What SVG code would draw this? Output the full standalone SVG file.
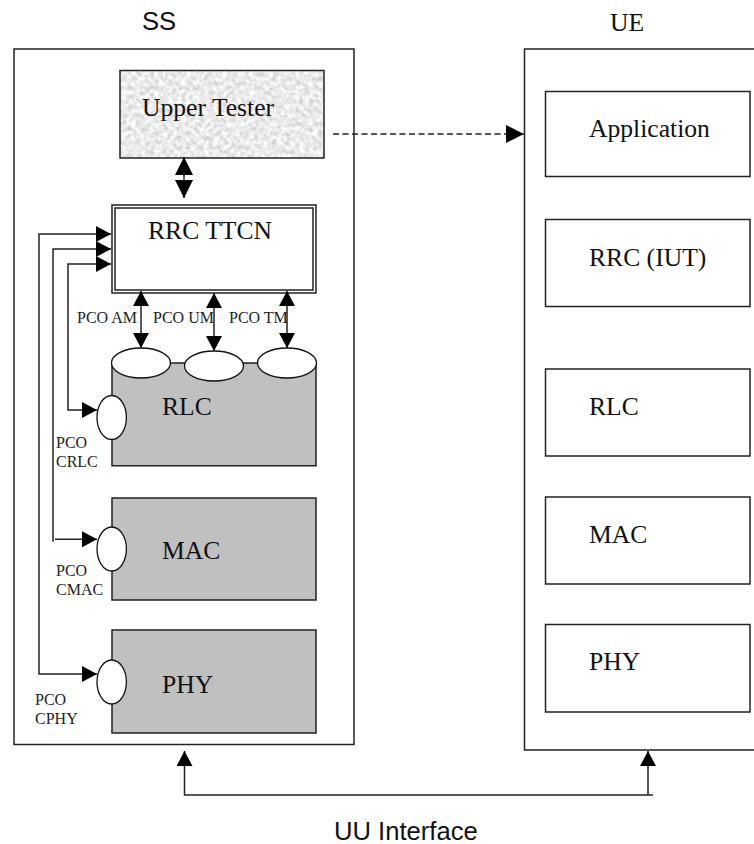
<svg xmlns="http://www.w3.org/2000/svg" width="754" height="844" viewBox="0 0 754 844">
<style>
  .box { fill: #fff; stroke: #222; stroke-width: 1.5; }
  .grey { fill: #c0c0c0; stroke: #222; stroke-width: 1.5; }
  .pco { fill: #fff; stroke: #111; stroke-width: 1.3; }
  .conn { fill: none; stroke: #222; stroke-width: 1.5; }
  .big { font-family: "Liberation Serif", "Times New Roman", serif; font-size: 25.6px; fill: #111; }
  .small { font-family: "Liberation Serif", "Times New Roman", serif; font-size: 16px; fill: #222; }
  .sans { font-family: "Liberation Sans", Arial, sans-serif; font-size: 25.6px; fill: #111; }
</style>
<defs>
  <marker id="head" markerUnits="userSpaceOnUse" viewBox="0 0 15 16" refX="15" refY="8" markerWidth="15" markerHeight="16" orient="auto-start-reverse">
    <path d="M0 0L15 8L0 16Z" fill="#000"/>
  </marker>
  <marker id="headBig" markerUnits="userSpaceOnUse" viewBox="0 0 18 18" refX="18" refY="9" markerWidth="18" markerHeight="18" orient="auto-start-reverse">
    <path d="M0 0L18 9L0 18Z" fill="#000"/>
  </marker>
  <filter id="granite" x="0" y="0" width="100%" height="100%" color-interpolation-filters="sRGB">
    <feTurbulence type="fractalNoise" baseFrequency="0.22" numOctaves="3" seed="7"/>
    <feColorMatrix type="matrix" values="0.34 0 0 0 0.75  0.34 0 0 0 0.75  0.34 0 0 0 0.75  0 0 0 0 1"/>
  </filter>
</defs>
<rect width="754" height="844" fill="#fff"/>

<g id="ss">
  <rect class="box" x="14" y="49" width="340" height="695.5"/>
  <text class="sans" x="142" y="30">SS</text>
</g>
<g id="ue">
  <path class="box" d="M754 49H524.5V750H754"/>
  <text class="big" x="610" y="31">UE</text>
</g>
<g id="upper-tester">
  <rect x="120" y="70.500" width="204" height="87.500" filter="url(#granite)"/>
  <rect x="120" y="70.500" width="204" height="87.500" fill="none" stroke="#222" stroke-width="1.5"/>
  <text class="big" x="142" y="116">Upper Tester</text>
</g>
<g id="rrc-ttcn">
  <rect class="box" x="112" y="205" width="204" height="88"/>
  <rect class="box" x="115" y="208" width="198" height="82"/>
  <text class="big" x="148" y="239">RRC TTCN</text>
</g>
<g id="rlc">
  <path class="grey" d="M112 363H316V465.700H112Z"/>
  <ellipse class="pco" cx="141" cy="363" rx="29.500" ry="15"/>
  <ellipse class="pco" cx="214" cy="366" rx="29.500" ry="15"/>
  <ellipse class="pco" cx="287" cy="363" rx="29.500" ry="15"/>
  <ellipse class="pco" cx="111.700" cy="417.500" rx="14.700" ry="22"/>
  <text class="big" x="162" y="415">RLC</text>
</g>
<g id="mac">
  <rect class="grey" x="112" y="498" width="204" height="102"/>
  <ellipse class="pco" cx="111.700" cy="549" rx="14.700" ry="22"/>
  <text class="big" x="162" y="559">MAC</text>
</g>
<g id="phy">
  <rect class="grey" x="112" y="630" width="204" height="103"/>
  <ellipse class="pco" cx="111.700" cy="682" rx="14.700" ry="22"/>
  <text class="big" x="162" y="693">PHY</text>
</g>
<g id="ue-application">
  <rect class="box" x="545.500" y="91.500" width="204.500" height="85"/>
  <text class="big" x="589" y="137">Application</text>
</g>
<g id="ue-rrc">
  <rect class="box" x="545.500" y="219.500" width="204.500" height="87"/>
  <text class="big" x="589" y="266">RRC (IUT)</text>
</g>
<g id="ue-rlc">
  <rect class="box" x="545.500" y="369" width="204.500" height="87"/>
  <text class="big" x="589" y="415">RLC</text>
</g>
<g id="ue-mac">
  <rect class="box" x="545.500" y="497" width="204.500" height="87"/>
  <text class="big" x="589" y="543">MAC</text>
</g>
<g id="ue-phy">
  <rect class="box" x="545.500" y="624.500" width="204.500" height="87.500"/>
  <text class="big" x="589" y="670">PHY</text>
</g>

<g id="connectors">
  <path class="conn" d="M184 176V157" marker-end="url(#headBig)"/>
  <path class="conn" d="M184 175V198" marker-end="url(#headBig)"/>
  <path class="conn" d="M333 134H524" stroke-dasharray="6 3.500"/>
  <path d="M506 125L524 134L506 143Z" fill="#000"/>
  <path class="conn" d="M141 291V348" marker-start="url(#head)" marker-end="url(#head)"/>
  <path class="conn" d="M214 293V351" marker-start="url(#head)" marker-end="url(#head)"/>
  <path class="conn" d="M287 291V348" marker-start="url(#head)" marker-end="url(#head)"/>
  <path class="conn" d="M97 410H68V264H111" marker-start="url(#head)" marker-end="url(#head)"/>
  <path class="conn" d="M53 541.700V249H111" marker-end="url(#head)"/>
  <path class="conn" d="M55 539.300H97" marker-end="url(#head)"/>
  <path class="conn" d="M97 674H39V234H111" marker-start="url(#head)" marker-end="url(#head)"/>
  <path class="conn" d="M184.500 751V795H653" marker-start="url(#head)"/>
  <path class="conn" d="M648 795V751" marker-end="url(#head)"/>
</g>

<g id="labels">
  <text class="small" x="77" y="323">PCO AM</text>
  <text class="small" x="153" y="323">PCO UM</text>
  <text class="small" x="229" y="323">PCO TM</text>
  <text class="small" x="56" y="448">PCO</text>
  <text class="small" x="56" y="467">CRLC</text>
  <text class="small" x="56" y="576">PCO</text>
  <text class="small" x="56" y="595">CMAC</text>
  <text class="small" x="35" y="705">PCO</text>
  <text class="small" x="35" y="724">CPHY</text>
  <text class="sans" x="334" y="840">UU Interface</text>
</g>
</svg>
